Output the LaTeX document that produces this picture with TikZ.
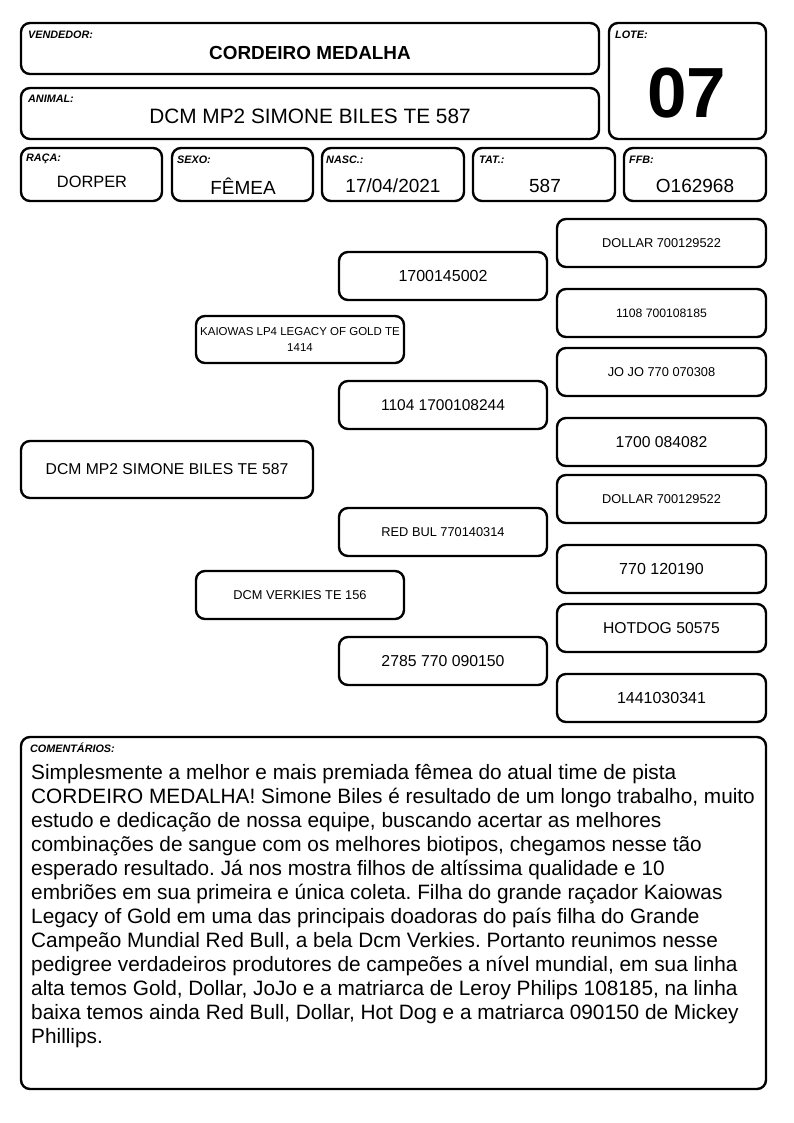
\documentclass[tikz,border=0pt]{standalone}
\usepackage{fontspec}
\setmainfont{Liberation Sans}
\frenchspacing
\begin{document}
\begin{tikzpicture}[x=1pt,y=-1pt,
  box/.style={draw=black,line width=2.4pt,rounded corners=9pt,inner sep=0pt,align=center},
  lbl/.style={anchor=west,inner sep=0pt,font=\fontsize{10.8}{12}\selectfont\bfseries\itshape},
  val/.style={inner sep=0pt}]
\useasboundingbox (0,0) rectangle (794,1123);
% header boxes
\node[box,minimum width=578pt,minimum height=51pt] (vend) at (310,48.5) {};
\node[box,minimum width=578pt,minimum height=51pt] (anim) at (310,113.5) {};
\node[box,minimum width=157pt,minimum height=116pt] (lote) at (687.5,81) {};
\node[box,minimum width=141pt,minimum height=53pt] (raca) at (91.5,174.5) {};
\node[box,minimum width=141pt,minimum height=53pt] (sexo) at (242.5,174.5) {};
\node[box,minimum width=142pt,minimum height=53pt] (nasc) at (393,174.5) {};
\node[box,minimum width=142pt,minimum height=53pt] (tat) at (544,174.5) {};
\node[box,minimum width=142pt,minimum height=53pt] (ffb) at (695,174.5) {};
% labels
\node[lbl] (lvend) at (28,35) {VENDEDOR:};
\node[lbl] (lanim) at (28,99) {ANIMAL:};
\node[lbl] (llote) at (615,35) {LOTE:};
\node[lbl] (lraca) at (26,159) {RAÇA:};
\node[lbl] (lsexo) at (177,160) {SEXO:};
\node[lbl] (lnasc) at (326,160) {NASC.:};
\node[lbl] (ltat) at (479,160) {TAT.:};
\node[lbl] (lffb) at (629,160) {FFB:};
% values
\node[val,font=\fontsize{18.9}{20}\selectfont\bfseries] (vvend) at (310,53) {CORDEIRO MEDALHA};
\node[val,font=\fontsize{20.8}{22}\selectfont] (vanim) at (310,116) {DCM MP2 SIMONE BILES TE 587};
\node[val,font=\fontsize{71}{72}\selectfont\bfseries] (vlote) at (687,93) {07};
\node[val,font=\fontsize{16.4}{18}\selectfont] (vraca) at (92,182) {DORPER};
\node[val,font=\fontsize{19}{21}\selectfont] (vsexo) at (243,186) {FÊMEA};
\node[val,font=\fontsize{19}{21}\selectfont] (vnasc) at (393,186) {17/04/2021};
\node[val,font=\fontsize{19}{21}\selectfont] (vtat) at (545,186) {587};
\node[val,font=\fontsize{19}{21}\selectfont] (vffb) at (695,186) {O162968};
% pedigree
\node[box,minimum width=292pt,minimum height=57pt,font=\fontsize{15.7}{18}\selectfont] (p0) at (167,469.5) {DCM MP2 SIMONE BILES TE 587};
\node[box,minimum width=208pt,minimum height=47pt,font=\fontsize{11.5}{16}\selectfont] (p1) at (300,339.5) {KAIOWAS LP4 LEGACY OF GOLD TE\\1414};
\node[box,minimum width=208pt,minimum height=48pt,font=\fontsize{12.8}{15}\selectfont] (p2) at (300,595) {DCM VERKIES TE 156};
\node[box,minimum width=208pt,minimum height=48pt,font=\fontsize{16}{18}\selectfont] (p11) at (443,276) {1700145002};
\node[box,minimum width=208pt,minimum height=48pt,font=\fontsize{15.5}{18}\selectfont] (p12) at (443,405) {1104 1700108244};
\node[box,minimum width=208pt,minimum height=48pt,font=\fontsize{12.8}{15}\selectfont] (p21) at (443,532) {RED BUL 770140314};
\node[box,minimum width=208pt,minimum height=48pt,font=\fontsize{15.8}{18}\selectfont] (p22) at (443,661) {2785 770 090150};
\node[box,minimum width=209pt,minimum height=48pt,font=\fontsize{12.8}{15}\selectfont] (p111) at (661.5,243) {DOLLAR 700129522};
\node[box,minimum width=209pt,minimum height=48pt,font=\fontsize{12.2}{15}\selectfont] (p112) at (661.5,313) {1108 700108185};
\node[box,minimum width=209pt,minimum height=48pt,font=\fontsize{12.8}{15}\selectfont] (p121) at (661.5,372) {JO JO 770 070308};
\node[box,minimum width=209pt,minimum height=48pt,font=\fontsize{15.7}{18}\selectfont] (p122) at (661.5,442) {1700 084082};
\node[box,minimum width=209pt,minimum height=48pt,font=\fontsize{12.8}{15}\selectfont] (p211) at (661.5,499) {DOLLAR 700129522};
\node[box,minimum width=209pt,minimum height=48pt,font=\fontsize{16}{18}\selectfont] (p212) at (661.5,569) {770 120190};
\node[box,minimum width=209pt,minimum height=48pt,font=\fontsize{15.7}{18}\selectfont] (p221) at (661.5,628) {HOTDOG 50575};
\node[box,minimum width=209pt,minimum height=48pt,font=\fontsize{16}{18}\selectfont] (p222) at (661.5,698) {1441030341};
% comments
\node[box,minimum width=745pt,minimum height=352pt] (com) at (393.5,913) {};
\node[lbl] (lcom) at (30,748) {COMENTÁRIOS:};
\node[anchor=north west,inner sep=0pt,align=left,font=\fontsize{20.8}{24}\selectfont] (tcom) at (31,764) {%
Simplesmente a melhor e mais premiada fêmea do atual time de pista\\
CORDEIRO MEDALHA! Simone Biles é resultado de um longo trabalho, muito\\
estudo e dedicação de nossa equipe, buscando acertar as melhores\\
combinações de sangue com os melhores biotipos, chegamos nesse tão\\
esperado resultado. Já nos mostra filhos de altíssima qualidade e 10\\
embriões em sua primeira e única coleta. Filha do grande raçador Kaiowas\\
Legacy of Gold em uma das principais doadoras do país filha do Grande\\
Campeão Mundial Red Bull, a bela Dcm Verkies. Portanto reunimos nesse\\
pedigree verdadeiros produtores de campeões a nível mundial, em sua linha\\
alta temos Gold, Dollar, JoJo e a matriarca de Leroy Philips 108185, na linha\\
baixa temos ainda Red Bull, Dollar, Hot Dog e a matriarca 090150 de Mickey\\
Phillips.};
\end{tikzpicture}
\end{document}
